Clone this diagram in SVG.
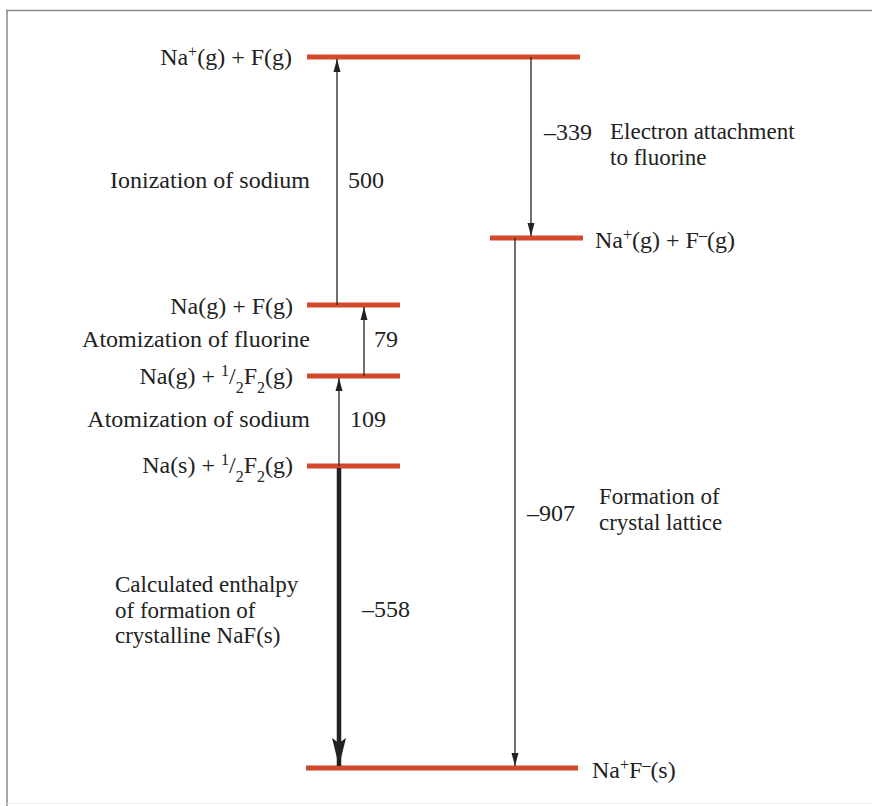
<svg xmlns="http://www.w3.org/2000/svg" width="872" height="806" viewBox="0 0 872 806">
<style>
text{font-family:"Liberation Serif","Times New Roman",serif;font-size:24px;fill:#222}
.ml{font-size:23px}
.lvl{stroke:#d4482b;stroke-width:5}
.thin{stroke:#222;stroke-width:1.3;fill:none}
.thick{stroke:#222;stroke-width:4.5;fill:none}
.sup{font-size:16px}
.frame{stroke:#888;stroke-width:1.5;fill:none}
</style>
<defs>
<marker id="ah" markerUnits="userSpaceOnUse" markerWidth="14" markerHeight="8" refX="13" refY="4" orient="auto">
<path d="M0,0.5 L13,4 L0,7.5 z" fill="#222"/>
</marker>
<marker id="ahBig" markerUnits="userSpaceOnUse" markerWidth="30" markerHeight="16" refX="28" refY="8" orient="auto">
<path d="M0,1 L28,8 L0,15 L5,8 z" fill="#222"/>
</marker>
</defs>
<rect width="872" height="806" fill="#fff"/>
<g id="frame">
<line class="frame" x1="6" y1="10.5" x2="872" y2="10.5"/>
<line class="frame" x1="7" y1="10" x2="7" y2="806"/>
<line x1="7" y1="803.5" x2="872" y2="803.5" stroke="#eee" stroke-width="1"/>
</g>
<g id="levels">
<g id="lvl-ion"><line class="lvl" x1="307" y1="57" x2="580" y2="57"/>
<text x="292" y="65" text-anchor="end">Na<tspan class="sup" baseline-shift="super">+</tspan>(g) + F(g)</text></g>
<g id="lvl-anion"><line class="lvl" x1="490" y1="238" x2="583" y2="238"/>
<text x="595" y="248">Na<tspan class="sup" baseline-shift="super">+</tspan>(g) + F<tspan class="sup" baseline-shift="super">–</tspan>(g)</text></g>
<g id="lvl-atoms"><line class="lvl" x1="307" y1="305" x2="400" y2="305"/>
<text x="293" y="314" text-anchor="end">Na(g) + F(g)</text></g>
<g id="lvl-nag"><line class="lvl" x1="307" y1="376" x2="400" y2="376"/>
<text x="293" y="384" text-anchor="end">Na(g) + <tspan class="sup" baseline-shift="super">1</tspan>/<tspan class="sup" baseline-shift="sub">2</tspan>F<tspan class="sup" baseline-shift="sub">2</tspan>(g)</text></g>
<g id="lvl-elements"><line class="lvl" x1="307" y1="466" x2="400" y2="466"/>
<text x="293" y="473" text-anchor="end">Na(s) + <tspan class="sup" baseline-shift="super">1</tspan>/<tspan class="sup" baseline-shift="sub">2</tspan>F<tspan class="sup" baseline-shift="sub">2</tspan>(g)</text></g>
<g id="lvl-crystal"><line class="lvl" x1="306" y1="768" x2="578" y2="768"/>
<text x="592" y="778">Na<tspan class="sup" baseline-shift="super">+</tspan>F<tspan class="sup" baseline-shift="super">–</tspan>(s)</text></g>
</g>
<g id="connectors">
<line class="thin" x1="337" y1="305" x2="337" y2="59" marker-end="url(#ah)"/>
<line class="thin" x1="531" y1="57" x2="531" y2="236" marker-end="url(#ah)"/>
<line class="thin" x1="364" y1="376" x2="364" y2="307" marker-end="url(#ah)"/>
<line class="thin" x1="339" y1="466" x2="339" y2="378" marker-end="url(#ah)"/>
<line class="thin" x1="515" y1="238" x2="515" y2="766" marker-end="url(#ah)"/>
<line class="thick" x1="339" y1="468" x2="339" y2="766" marker-end="url(#ahBig)"/>
</g>
<g id="labels">
<text x="310" y="188" text-anchor="end">Ionization of sodium</text>
<text x="348" y="188">500</text>
<text x="544" y="140">–339</text>
<text class="ml" x="610" y="139">Electron attachment</text>
<text class="ml" x="610" y="164.5">to fluorine</text>
<text x="310" y="347" text-anchor="end">Atomization of fluorine</text>
<text x="374" y="347">79</text>
<text x="310" y="427" text-anchor="end">Atomization of sodium</text>
<text x="350" y="427">109</text>
<text x="527" y="521">–907</text>
<text class="ml" x="599" y="504">Formation of</text>
<text class="ml" x="599" y="529.5">crystal lattice</text>
<text class="ml" x="115" y="592">Calculated enthalpy</text>
<text class="ml" x="115" y="617.5">of formation of</text>
<text class="ml" x="115" y="643">crystalline NaF(s)</text>
<text x="362" y="617">–558</text>
</g>
</svg>
